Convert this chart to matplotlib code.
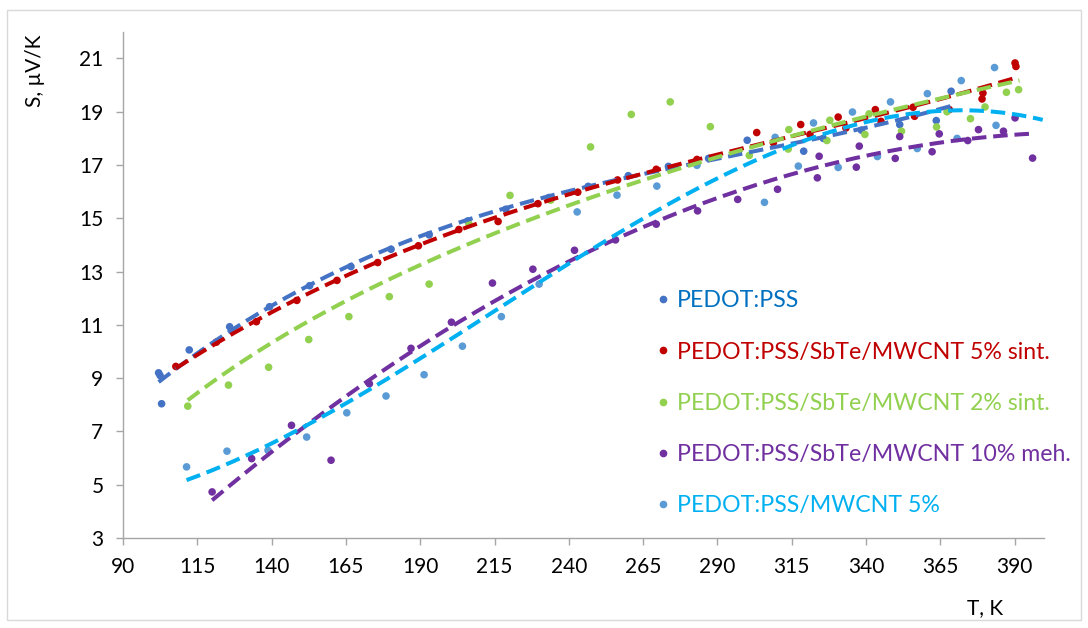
import numpy as np
import matplotlib
matplotlib.use("Agg")
import matplotlib.pyplot as plt
from matplotlib.lines import Line2D
from matplotlib.patches import Rectangle

plt.rcParams["font.family"] = ["Lato", "DejaVu Sans"]

# Seebeck coefficient S (uV/K) vs temperature T (K) for each sample
T_pedot = [102.0, 102.5, 103.0, 112.3, 125.9, 139.3, 152.8, 166.7, 180.2, 193.0,
           206.0, 218.8, 233.3, 246.5, 260.0, 273.5, 287.0, 300.0, 319.0, 325.6,
           338.4, 351.3, 363.6, 368.6]
S_pedot = [9.2, 9.1, 8.04, 10.06, 10.93, 11.68, 12.47, 13.19, 13.84, 14.38,
           14.9, 15.34, 15.78, 16.2, 16.6, 16.95, 17.25, 17.93, 17.52, 18.0,
           18.31, 18.52, 18.67, 19.77]

T_sint5 = [107.8, 121.4, 134.9, 148.5, 162.0, 175.7, 189.4, 203.0, 216.2, 229.6,
           243.0, 256.4, 269.4, 283.1, 303.2, 308.8, 318.0, 321.1, 330.6, 333.2,
           343.1, 345.0, 355.8, 356.3, 368.0, 379.3, 379.0, 390.1, 390.4]
S_sint5 = [9.44, 10.35, 11.12, 11.92, 12.67, 13.34, 13.97, 14.58, 14.88, 15.55,
           15.98, 16.44, 16.84, 17.21, 18.22, 17.84, 18.52, 18.15, 18.8, 18.39,
           19.08, 18.64, 19.17, 18.83, 19.08, 19.7, 19.48, 20.83, 20.7]

T_sint2 = [111.8, 125.5, 139.0, 152.5, 166.0, 179.6, 193.0, 206.4, 220.2, 233.9,
           247.3, 261.0, 274.1, 287.6, 300.7, 313.8, 314.0, 326.8, 327.8, 339.6,
           341.0, 351.9, 363.7, 367.2, 375.1, 380.0, 387.2, 391.3]
S_sint2 = [7.95, 8.74, 9.41, 10.45, 11.31, 12.06, 12.53, 14.78, 15.86, 15.68,
           17.68, 18.9, 19.37, 18.44, 17.36, 17.6, 18.33, 17.92, 18.68, 18.15,
           18.92, 18.27, 18.43, 19.0, 18.74, 19.18, 19.73, 19.83]

T_meh10 = [120.0, 133.3, 146.7, 160.0, 172.9, 186.9, 200.5, 214.3, 227.9, 241.9,
           255.7, 269.4, 283.3, 296.8, 310.2, 323.6, 324.2, 336.7, 337.7, 349.8,
           351.3, 362.2, 364.6, 374.2, 377.8, 386.2, 390.1, 396.0]
S_meh10 = [4.73, 5.98, 7.23, 5.92, 8.79, 10.12, 11.1, 12.57, 13.09, 13.8,
           14.19, 14.78, 15.28, 15.71, 16.09, 16.52, 17.33, 16.92, 17.71, 17.25,
           18.07, 17.5, 18.17, 17.92, 18.33, 18.27, 18.77, 17.26]

T_mwcnt = [111.4, 125.0, 138.8, 151.8, 165.3, 178.5, 191.3, 204.2, 217.3, 230.0,
           242.8, 256.2, 269.6, 283.1, 305.8, 309.4, 317.2, 322.3, 330.6, 335.4,
           343.8, 348.2, 357.2, 360.6, 370.6, 372.0, 383.7, 383.2]
S_mwcnt = [5.67, 6.26, 6.29, 6.79, 7.7, 8.33, 9.13, 10.2, 11.31, 12.53,
           15.24, 15.87, 16.21, 16.99, 15.6, 18.04, 16.96, 18.58, 16.91, 18.99,
           17.32, 19.37, 17.62, 19.68, 18.0, 20.17, 18.49, 20.66]

labels = ["PEDOT:PSS", "PEDOT:PSS/SbTe/MWCNT 5% sint.", "PEDOT:PSS/SbTe/MWCNT 2% sint.",
          "PEDOT:PSS/SbTe/MWCNT 10% meh.", "PEDOT:PSS/MWCNT 5%"]

series = [
    # T, S, dot colour, trend colour, text colour, trend kind, trend end
    (T_pedot, S_pedot, "#4472C4", "#4472C4", "#0070C0", 3, 369.7),
    (T_sint5, S_sint5, "#C00000", "#C00000", "#C00000", 3, 391.0),
    (T_sint2, S_sint2, "#92D050", "#92D050", "#92D050", "log", 391.6),
    (T_meh10, S_meh10, "#7030A0", "#7030A0", "#7030A0", 2, 396.4),
    (T_mwcnt, S_mwcnt, "#5B9BD5", "#00B0F0", "#00B0F0", 3, 399.4),
]


def trend(T, S, kind, tt):
    T = np.asarray(T)
    if kind == "log":
        a, b = np.polyfit(np.log(T), S, 1)
        return a * np.log(tt) + b
    return np.polyval(np.polyfit(T, S, kind), tt)


fig = plt.figure(figsize=(10.88, 6.28), dpi=100)
ax = fig.add_axes([0.113, 0.1433, 0.847, 0.806])

for T, S, dot_c, line_c, _, kind, t_end in series:
    ax.scatter(T, S, s=30, color=dot_c, edgecolors="none", zorder=2)

for T, S, dot_c, line_c, _, kind, t_end in series:
    tt = np.linspace(min(T), t_end, 300)
    ax.plot(tt, trend(T, S, kind, tt), color=line_c, lw=2.9,
            linestyle=(0, (3.6, 1.7)), zorder=3)

ax.set_xlim(90, 400)
ax.set_ylim(3, 22)
ax.set_xticks(np.arange(90, 391, 25))
ax.set_yticks(np.arange(3, 22, 2))

for side in ("top", "right"):
    ax.spines[side].set_visible(False)
for side in ("left", "bottom"):
    ax.spines[side].set_color("#A6A6A6")
    ax.spines[side].set_linewidth(1.0)
ax.tick_params(axis="both", colors="#A6A6A6", length=5, width=1.0,
               labelsize=15, labelcolor="#000000", pad=9)

fig.text(0.032, 0.887, "S, µV/K", rotation=90, ha="center", va="center", fontsize=15)
fig.text(0.905, 0.032, "T, K", ha="center", va="center", fontsize=15)

handles = [Line2D([], [], linestyle="none", marker="o", markersize=4.5,
                  color=s[2]) for s in series]
leg = ax.legend(handles, labels, loc="upper left", bbox_to_anchor=(0.566, 0.512),
                frameon=False, fontsize=16.7, handlelength=0.6, handletextpad=0.3,
                labelspacing=1.3, borderpad=0)
for txt, s in zip(leg.get_texts(), series):
    txt.set_color(s[4])

fig.patches.append(Rectangle((0.006, 0.012), 0.988, 0.972, transform=fig.transFigure,
                             fill=False, edgecolor="#D9D9D9", lw=1.0))

fig.savefig("out.png", dpi=100)
